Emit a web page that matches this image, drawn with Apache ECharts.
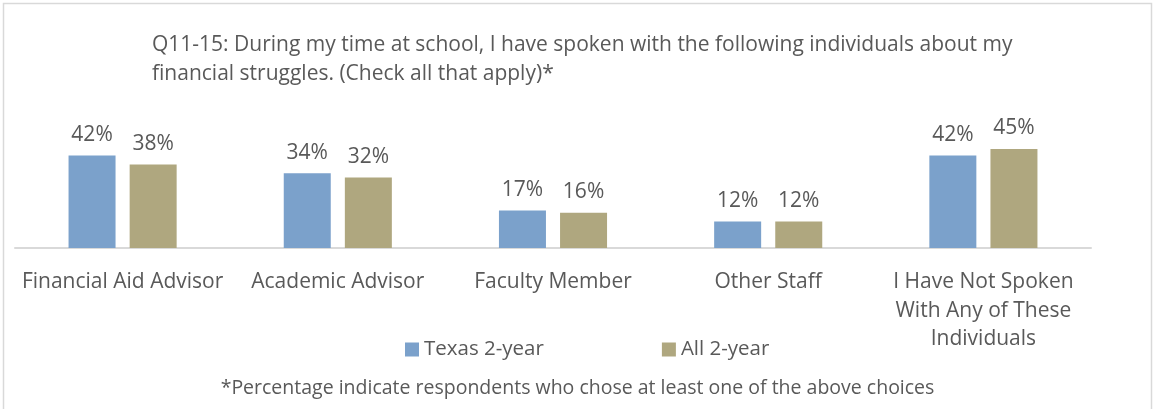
<!DOCTYPE html>
<html>
<head>
<meta charset="utf-8">
<script src="https://cdn.jsdelivr.net/npm/echarts@6/dist/echarts.min.js"></script>
<style>
  html, body { margin: 0; padding: 0; background: #fff; }
  #chart { width: 1155px; height: 409px; }
</style>
</head>
<body>
<div id="chart"></div>
<script>
  const categories = [
    'Financial Aid Advisor',
    'Academic Advisor',
    'Faculty Member',
    'Other Staff',
    'I Have Not Spoken\nWith Any of These\nIndividuals'
  ]
  const texasData = [42, 34, 17, 12, 42] // Texas 2-year
  const allData = [38, 32, 16, 12, 45] // All 2-year
  const seriesNames = ['Texas 2-year', 'All 2-year']

  const font = '"Open Sans", sans-serif'
  const textColor = '#595959'

  const chart = echarts.init(document.getElementById('chart'))
  chart.setOption({
    animation: false,
    textStyle: { fontFamily: font },
    title: [{
      text: 'Q11-15: During my time at school, I have spoken with the following individuals about my\nfinancial struggles. (Check all that apply)*',
      left: 147,
      top: 26,
      textStyle: { fontFamily: font, fontSize: 21, fontWeight: 'normal', color: textColor, lineHeight: 29 }
    }, {
      text: '*Percentage indicate respondents who chose at least one of the above choices',
      left: 'center',
      top: 373,
      textStyle: { fontFamily: font, fontSize: 19.5, fontWeight: 'normal', color: textColor }
    }],
    graphic: [{
      type: 'rect',
      shape: { x: 3.5, y: 3.5, width: 1148, height: 420 },
      style: { fill: 'none', stroke: '#d9d9d9', lineWidth: 1.5 }
    }],
    legend: {
      data: seriesNames,
      left: 400,
      top: 334,
      itemGap: 118,
      itemWidth: 14,
      itemHeight: 14,
      icon: 'rect',
      textStyle: { fontFamily: font, fontSize: 20.5, color: textColor }
    },
    grid: {
      left: 15,
      right: 64,
      top: 138,
      bottom: 161
    },
    xAxis: {
      type: 'category',
      data: categories,
      axisLine: { lineStyle: { color: '#d9d9d9', width: 2 } },
      axisTick: { show: false },
      axisLabel: {
        interval: 0,
        margin: 20,
        fontFamily: font,
        fontSize: 21,
        lineHeight: 28.5,
        color: textColor
      }
    },
    yAxis: {
      type: 'value',
      min: 0,
      max: 50,
      show: false
    },
    series: [{
      name: seriesNames[0],
      type: 'bar',
      data: texasData,
      barWidth: 47,
      barGap: '30%',
      itemStyle: { color: '#7ba1cb' },
      label: {
        show: true,
        position: 'top',
        distance: 10,
        formatter: p => p.value + '%',
        fontFamily: font,
        fontSize: 21,
        color: textColor
      }
    }, {
      name: seriesNames[1],
      type: 'bar',
      data: allData,
      barWidth: 47,
      barGap: '30%',
      itemStyle: { color: '#afa77f' },
      label: {
        show: true,
        position: 'top',
        distance: 10,
        formatter: p => p.value + '%',
        fontFamily: font,
        fontSize: 21,
        color: textColor
      }
    }]
  })
</script>
</body>
</html>
